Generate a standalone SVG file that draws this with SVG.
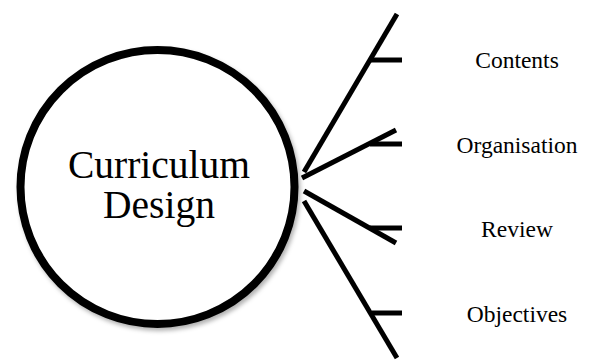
<svg xmlns="http://www.w3.org/2000/svg" width="590" height="360" viewBox="0 0 590 360">
<style>
.ray{stroke:#000;stroke-width:5;fill:none;stroke-linecap:butt}
.lbl{font-family:'Liberation Serif','Times New Roman',Times,serif;font-size:23.5px;fill:#000;text-anchor:middle}
.big{font-family:'Liberation Serif','Times New Roman',Times,serif;font-size:39.5px;fill:#000;text-anchor:middle}
</style>
<defs>
<filter id="sh" x="-10%" y="-10%" width="130%" height="130%">
<feDropShadow dx="2" dy="3" stdDeviation="2" flood-color="#000" flood-opacity="0.3"/>
</filter>
</defs>
<rect width="590" height="360" fill="#fff"/>
<g id="center">
<circle cx="157.5" cy="187" r="137" fill="#fff" stroke="#000" stroke-width="8" filter="url(#sh)"/>
<text class="big" x="159" y="178">Curriculum</text>
<text class="big" x="159" y="218">Design</text>
</g>
<g id="connectors">
<line class="ray" x1="304" y1="172" x2="397" y2="14"/>
<line class="ray" x1="371" y1="60" x2="402" y2="60"/>
<line class="ray" x1="302" y1="178" x2="396" y2="130"/>
<line class="ray" x1="370" y1="144" x2="402" y2="144"/>
<line class="ray" x1="304" y1="191" x2="396" y2="243"/>
<line class="ray" x1="370" y1="228" x2="402" y2="228"/>
<line class="ray" x1="304" y1="201" x2="397" y2="358"/>
<line class="ray" x1="372" y1="313" x2="402" y2="313"/>
</g>
<g id="contents"><text class="lbl" x="517" y="68">Contents</text></g>
<g id="organisation"><text class="lbl" x="517" y="153">Organisation</text></g>
<g id="review"><text class="lbl" x="517" y="237">Review</text></g>
<g id="objectives"><text class="lbl" x="517" y="322">Objectives</text></g>
</svg>
